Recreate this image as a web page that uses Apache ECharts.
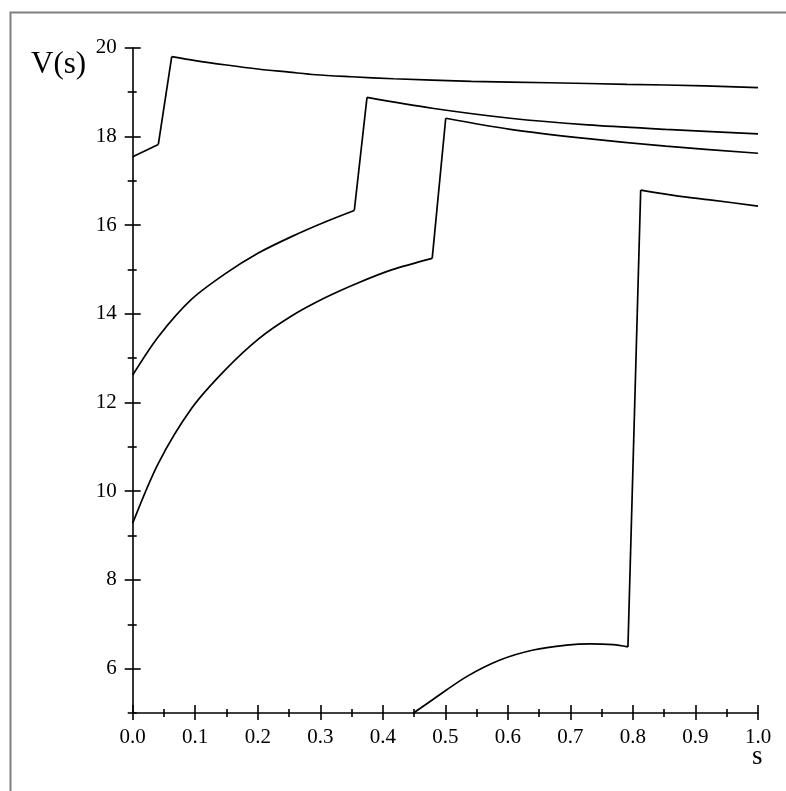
<!DOCTYPE html>
<html>
<head>
<meta charset="utf-8">
<script src="https://cdn.jsdelivr.net/npm/echarts@6/dist/echarts.min.js"></script>
<style>
  html, body { margin: 0; padding: 0; background: #fff; }
  #chart { width: 786px; height: 791px; }
</style>
</head>
<body>
<div id="chart"></div>
<script>
// ---- data ----
const xTickLabels = ['0.0','0.1','0.2','0.3','0.4','0.5','0.6','0.7','0.8','0.9','1.0'];
const yMajorTicks = [6, 8, 10, 12, 14, 16, 18, 20];
const yMinorTicks = [5, 7, 9, 11, 13, 15, 17, 19];

const curve1Rise  = [[0, 17.54], [0.041, 17.82]];
const curve1Decay = [[0.0624, 19.80], [0.10, 19.71], [0.15, 19.61], [0.20, 19.52], [0.25, 19.45], [0.2925, 19.39],
                     [0.35, 19.345], [0.417, 19.30], [0.5415, 19.24], [0.666, 19.21], [0.7905, 19.175], [0.915, 19.14], [1.0, 19.10]];

const curve2Rise  = [[0, 12.62], [0.041, 13.485], [0.0943, 14.33], [0.1476, 14.90], [0.2009, 15.37],
                     [0.254, 15.74], [0.3075, 16.07], [0.3544, 16.33]];
const curve2Decay = [[0.3747, 18.88], [0.479, 18.635], [0.6037, 18.41], [0.728, 18.26], [0.8526, 18.16], [1.0, 18.055]];

const curve3Rise  = [[0, 9.28], [0.041, 10.63], [0.0943, 11.87], [0.1476, 12.73], [0.2009, 13.43],
                     [0.254, 13.95], [0.3075, 14.36], [0.361, 14.70], [0.414, 14.99], [0.479, 15.25]];
const curve3Decay = [[0.5006, 18.41], [0.604, 18.16], [0.728, 17.95], [0.8526, 17.78], [1.0, 17.62]];

const curve4Rise  = [[0.449, 5.0], [0.4807, 5.31], [0.534, 5.82], [0.5874, 6.195], [0.6407, 6.42],
                     [0.694, 6.53], [0.731, 6.56], [0.7686, 6.54], [0.792, 6.49]];
const curve4Decay = [[0.8124, 16.79], [0.87, 16.66], [0.923, 16.57], [1.0, 16.43]];

const curves = [
  [curve1Rise, curve1Decay],
  [curve2Rise, curve2Decay],
  [curve3Rise, curve3Decay],
  [curve4Rise, curve4Decay]
];

// ---- chart ----
const FONT = 'Liberation Serif';
const lineStyleAxis = { color: '#000', width: 1.6 };
const curveStyle = { color: '#000', width: 1.7 };

const series = [];
curves.forEach(([rise, decay]) => {
  const base = { type: 'line', showSymbol: false, symbol: 'none', silent: true,
                 lineStyle: curveStyle, xAxisIndex: 0, yAxisIndex: 0, z: 5 };
  series.push(Object.assign({}, base, { data: rise, smooth: 0.3 }));
  series.push(Object.assign({}, base, { data: [rise[rise.length - 1], decay[0]], smooth: false }));
  series.push(Object.assign({}, base, { data: decay, smooth: 0.3 }));
});

const xBase = { type: 'value', min: 0, max: 1, interval: 0.1, gridIndex: 0, position: 'bottom', offset: 0,
                splitLine: { show: false }, minorSplitLine: { show: false } };
const yBase = { type: 'value', min: 5, max: 20, gridIndex: 0, position: 'left', offset: 0,
                splitLine: { show: false }, minorSplitLine: { show: false } };

const option = {
  backgroundColor: '#fff',
  animation: false,
  title: [
    { text: 'V(s)', left: 31, top: 49, padding: 0,
      textStyle: { fontFamily: FONT, fontSize: 31, fontWeight: 'normal', color: '#000' } },
    { text: 's', left: 752, top: 743, padding: 0,
      textStyle: { fontFamily: FONT, fontSize: 27, fontWeight: 'normal', color: '#000' } }
  ],
  graphic: [
    { type: 'rect', left: 8, top: 10, silent: true,
      shape: { x: 8, y: 10, width: 2000, height: 2000 },
      style: { fill: 'none', stroke: '#808080', lineWidth: 2 } }
  ],
  grid: { left: 132.7, top: 47.7, width: 625.3, height: 665.3, containLabel: false },
  xAxis: [
    Object.assign({}, xBase, {
      axisLine: { show: true, onZero: false, lineStyle: lineStyleAxis },
      axisTick: { show: true, inside: false, length: 7, lineStyle: lineStyleAxis },
      minorTick: { show: true, splitNumber: 2, length: 4, lineStyle: lineStyleAxis },
      axisLabel: { show: true, margin: 14, fontFamily: FONT, fontSize: 21, color: '#000',
                   formatter: (v) => xTickLabels[Math.round(v * 10)] }
    }),
    Object.assign({}, xBase, {
      axisLine: { show: false, onZero: false },
      axisTick: { show: true, inside: true, length: 8, lineStyle: lineStyleAxis },
      minorTick: { show: true, splitNumber: 2, length: 4, lineStyle: lineStyleAxis },
      axisLabel: { show: false }
    })
  ],
  yAxis: [
    Object.assign({}, yBase, {
      axisLine: { show: true, onZero: false, lineStyle: lineStyleAxis },
      axisTick: { show: true, inside: false, length: 8, customValues: yMajorTicks, lineStyle: lineStyleAxis },
      axisLabel: { show: true, margin: 16, customValues: yMajorTicks, fontFamily: FONT, fontSize: 21, color: '#000',
                   padding: [4, 0, 0, 0] }
    }),
    Object.assign({}, yBase, {
      axisLine: { show: false, onZero: false },
      axisTick: { show: true, inside: true, length: 8, customValues: yMajorTicks, lineStyle: lineStyleAxis },
      axisLabel: { show: false }
    }),
    Object.assign({}, yBase, {
      axisLine: { show: false, onZero: false },
      axisTick: { show: true, inside: false, length: 5, customValues: yMinorTicks, lineStyle: lineStyleAxis },
      axisLabel: { show: false }
    }),
    Object.assign({}, yBase, {
      axisLine: { show: false, onZero: false },
      axisTick: { show: true, inside: true, length: 4, customValues: yMinorTicks, lineStyle: lineStyleAxis },
      axisLabel: { show: false }
    })
  ],
  series: series
};

const chart = echarts.init(document.getElementById('chart'), null, { renderer: 'canvas' });
chart.setOption(option);
</script>
</body>
</html>
